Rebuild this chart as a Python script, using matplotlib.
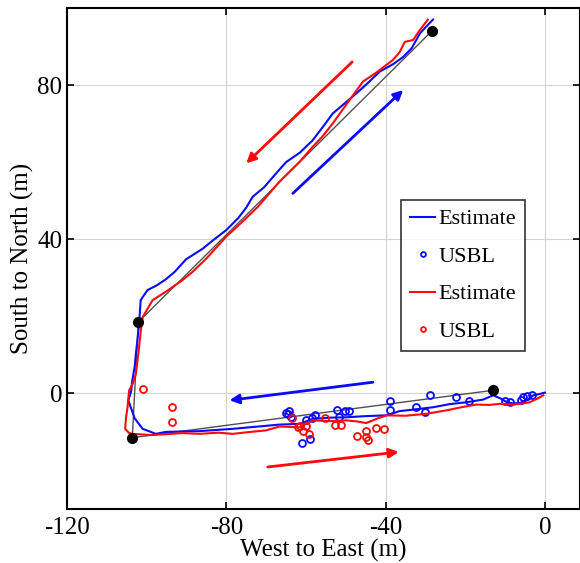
import matplotlib.pyplot as plt

plt.rcParams['font.family'] = ['Liberation Serif', 'DejaVu Serif']
plt.rcParams['axes.unicode_minus'] = False

# planned path (black line) and waypoints
path_x = [-13.0, -103.6, -102.1, -28.4]
path_y = [0.8, -11.5, 18.5, 94.0]

# blue run: estimate
blue_x = [0.0, -1.5, -2.9, -4.5, -6.3, -8.0, -9.6, -11.0, -13.0, -15.5, -19.7, -24.0,
          -28.1, -33.0, -36.5, -39.8, -45.0, -49.9, -54.0, -58.3, -61.6, -66.7,
          -72.0, -78.4, -86.8, -92.0, -95.2, -97.7, -101.0, -103.0, -104.0, -104.6,
          -103.9, -103.6, -103.0, -102.7, -102.3, -101.9, -101.5, -99.8, -97.5,
          -95.2, -93.0, -90.1, -86.0, -83.0, -80.1, -77.0, -75.0, -73.4, -70.5,
          -68.0, -65.0, -61.5, -58.3, -55.5, -53.3, -50.0, -47.4, -44.5, -41.5,
          -38.0, -35.6, -33.5, -31.4, -29.5, -28.1]
blue_y = [0.2, -0.2, -0.5, -1.8, -2.5, -2.6, -2.3, -1.4, -0.5, -1.6, -2.3, -2.8,
          -3.6, -4.2, -4.6, -5.7, -5.9, -6.2, -6.3, -6.6, -7.9, -8.1,
          -8.6, -9.2, -9.8, -9.9, -10.0, -10.5, -9.2, -6.5, -3.6, -1.8,
          0.5, 3.4, 7.0, 10.3, 14.0, 18.1, 24.2, 26.8, 28.0,
          29.6, 31.5, 34.8, 37.5, 40.0, 42.3, 45.5, 48.2, 51.0, 53.5,
          56.5, 60.0, 62.5, 65.7, 69.5, 72.6, 75.5, 77.8, 80.5, 83.5,
          85.5, 87.3, 89.5, 93.4, 95.5, 97.0]

# red run: estimate
red_x = [-29.4, -30.5, -31.4, -33.1, -35.2, -36.5, -38.2, -42.0, -45.7, -49.5,
         -53.3, -56.0, -58.3, -61.6, -66.7, -72.0, -76.0, -80.1, -85.0, -88.5,
         -91.0, -95.0, -98.5, -101.0, -101.5, -101.9, -102.3, -102.7, -103.5,
         -104.4, -104.8, -105.2, -105.4, -104.5, -103.6, -99.0, -95.2, -91.0,
         -86.8, -82.0, -78.4, -74.0, -70.0, -66.7, -61.6, -58.3, -54.0, -49.9,
         -47.0, -44.9, -42.0, -39.8, -35.0, -29.8, -24.7, -21.0, -17.2, -14.0,
         -11.3, -8.0, -5.5, -3.8, -2.0, -0.4]
red_y = [97.0, 95.5, 94.3, 91.7, 91.2, 88.5, 86.5, 83.5, 80.9, 75.5,
         70.0, 66.5, 64.0, 60.1, 54.9, 48.5, 44.5, 40.6, 35.0, 31.5,
         29.4, 26.5, 24.2, 19.8, 16.0, 12.0, 8.5, 5.1, 2.5,
         0.8, -3.6, -6.5, -9.2, -10.2, -10.5, -10.8, -10.6, -10.3,
         -10.5, -10.2, -10.5, -10.0, -9.6, -8.6, -8.8, -7.0, -7.2, -7.0,
         -7.3, -7.7, -6.5, -5.7, -5.8, -5.3, -4.4, -3.6, -2.9, -3.0,
         -2.7, -2.9, -2.6, -2.3, -1.4, -0.5]

# USBL fixes
usbl_blue_x = [-39.0, -39.0, -28.8, -32.5, -30.2, -22.4, -19.1, -10.1, -8.8, -6.1,
               -5.5, -4.6, -3.2, -52.2, -51.8, -50.3, -49.2, -57.7, -58.5, -60.0,
               -61.0, -58.9, -64.2, -64.6, -63.7, -65.0]
usbl_blue_y = [-2.0, -4.2, -0.5, -3.6, -4.8, -0.9, -2.0, -2.0, -2.2, -1.6,
               -1.0, -0.8, -0.5, -4.2, -6.0, -4.7, -4.7, -5.5, -6.3, -6.8,
               -12.9, -11.9, -4.7, -5.3, -6.0, -5.0]
usbl_red_x = [-101.0, -93.7, -93.7, -63.5, -62.1, -61.6, -60.8, -60.0, -59.3, -55.1,
              -52.8, -51.2, -47.1, -45.0, -45.0, -44.4, -42.3, -40.4]
usbl_red_y = [1.1, -3.6, -7.5, -6.3, -8.6, -8.5, -9.8, -8.5, -10.6, -6.3,
              -8.1, -8.1, -11.1, -9.8, -11.3, -12.2, -9.0, -9.3]

# direction arrows: (tail, head)
arrows_blue = [((-63.3, 51.9), (-35.6, 78.7)), ((-43.2, 2.9), (-79.2, -1.8))]
arrows_red = [((-48.4, 86.0), (-75.0, 59.7)), ((-69.6, -19.1), (-36.7, -15.2))]

fig = plt.figure(figsize=(5.8, 5.63), dpi=100)
ax = fig.add_axes([67/580, 1 - 509/563, 1 - 67/580, 501/563])

ax.plot(path_x, path_y, color='#505050', lw=1.0, zorder=2)
ax.plot(blue_x, blue_y, color='#0a0aff', lw=1.5, label='Estimate', zorder=3)
ax.plot(usbl_blue_x, usbl_blue_y, 'o', mfc='none', mec='#0a0aff', ms=5, mew=1.3,
        label='USBL', zorder=3)
ax.plot(red_x, red_y, color='#ff0a0a', lw=1.5, label='Estimate', zorder=3)
ax.plot(usbl_red_x, usbl_red_y, 'o', mfc='none', mec='#ff0a0a', ms=5, mew=1.3,
        label='USBL', zorder=3)
ax.plot(path_x, path_y, 'o', color='black', ms=7, zorder=4)

for tail, head in arrows_blue:
    ax.annotate('', xy=head, xytext=tail,
                arrowprops=dict(arrowstyle='-|>', color='#0a0aff', lw=2,
                                mutation_scale=14, shrinkA=0, shrinkB=0))
for tail, head in arrows_red:
    ax.annotate('', xy=head, xytext=tail,
                arrowprops=dict(arrowstyle='-|>', color='#ff0a0a', lw=2,
                                mutation_scale=14, shrinkA=0, shrinkB=0))

ax.set_xlim(-120, 8.8)
ax.set_ylim(-30, 100)
ax.set_xticks([-120, -80, -40, 0])
ax.set_yticks([0, 40, 80])
ax.tick_params(direction='in', top=True, right=True, labelsize=18, length=5, width=1.2)
ax.tick_params(axis='x', pad=6)
ax.grid(True, color='#d4d4d4', ls='-', lw=0.8)
ax.set_axisbelow(True)
for s in ax.spines.values():
    s.set_linewidth(1.5)
ax.set_xlabel('West to East (m)', fontsize=18, labelpad=0)
ax.set_ylabel('South to North (m)', fontsize=18, labelpad=2)

leg = ax.legend(loc='upper left', bbox_to_anchor=((401 - 67)/513, (509 - 200)/501),
                fontsize=16, frameon=True, fancybox=False, edgecolor='black',
                handlelength=1.15, handletextpad=0.15, borderpad=0.4,
                labelspacing=0.76, markerscale=0.7, borderaxespad=0)
leg.get_frame().set_linewidth(1.2)

fig.savefig('out.png', dpi=100)
